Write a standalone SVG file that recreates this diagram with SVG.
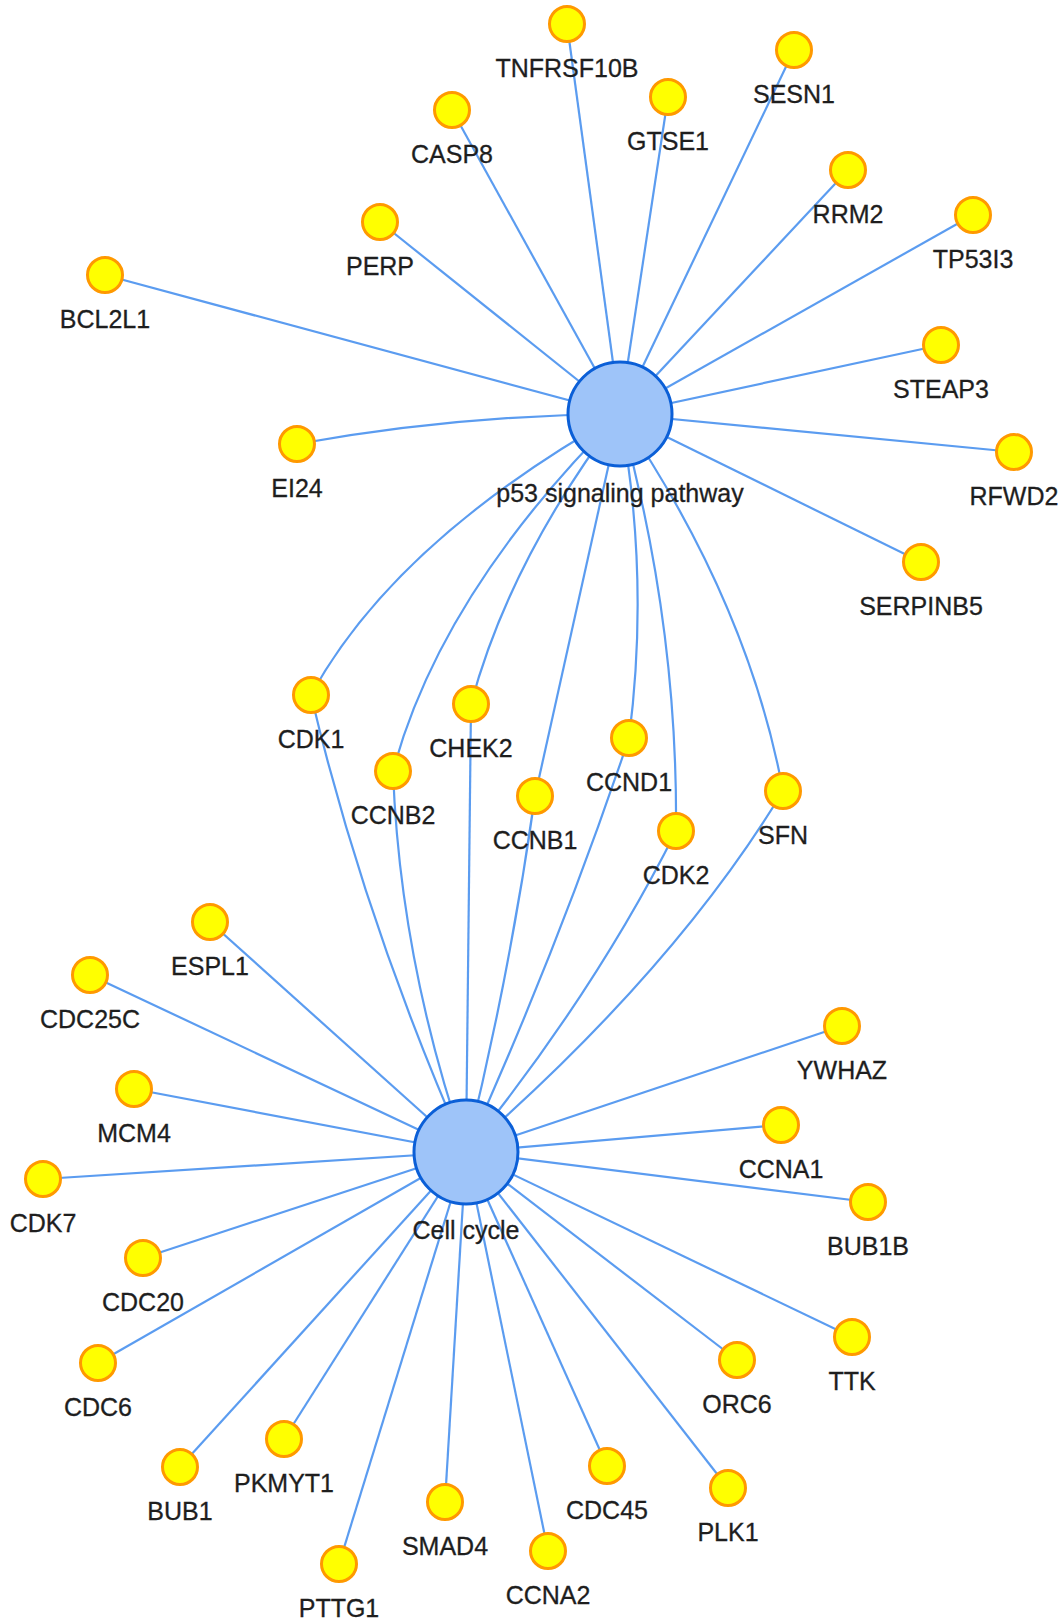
<svg xmlns="http://www.w3.org/2000/svg" width="1064" height="1623" viewBox="0 0 1064 1623">
<style>
.edge{fill:none;stroke:#5b9cf0;stroke-width:2.2}
.gene circle{fill:#ffff00;stroke:#ff9900;stroke-width:3}
.hub circle{fill:#9ec4f9;stroke:#0b5fd7;stroke-width:3}
text{font-family:"Liberation Sans",Arial,sans-serif;font-size:25px;fill:#1e1e1e;stroke:#1e1e1e;stroke-width:0.3;text-anchor:middle}
</style>
<rect width="1064" height="1623" fill="#ffffff"/>
<g id="edges">
<path class="edge" d="M620 414 L567 24"/>
<path class="edge" d="M620 414 L794 50"/>
<path class="edge" d="M620 414 L668 97"/>
<path class="edge" d="M620 414 L452 110"/>
<path class="edge" d="M620 414 L848 170"/>
<path class="edge" d="M620 414 L973 215"/>
<path class="edge" d="M620 414 L380 222"/>
<path class="edge" d="M620 414 L105 275"/>
<path class="edge" d="M620 414 L941 345"/>
<path class="edge" d="M620 414 L1014 452"/>
<path class="edge" d="M620 414 L921 562"/>
<path class="edge" d="M620 414 L535 796"/>
<path class="edge" d="M620 414 Q458 415 297 444"/>
<path class="edge" d="M620 414 Q395 541 311 695"/>
<path class="edge" d="M620 414 Q510 559 471 704"/>
<path class="edge" d="M620 414 Q441 592 393 771"/>
<path class="edge" d="M620 414 Q650 576 629 738"/>
<path class="edge" d="M620 414 Q678 622 676 831"/>
<path class="edge" d="M620 414 Q748 602 783 791"/>
<path class="edge" d="M466 1152 Q365 923 311 695"/>
<path class="edge" d="M466 1152 Q400 961 393 771"/>
<path class="edge" d="M466 1152 L471 704"/>
<path class="edge" d="M466 1152 Q510 974 535 796"/>
<path class="edge" d="M466 1152 Q558 949 629 738"/>
<path class="edge" d="M466 1152 Q596 991 676 831"/>
<path class="edge" d="M466 1152 Q674 971 783 791"/>
<path class="edge" d="M466 1152 L210 922"/>
<path class="edge" d="M466 1152 L90 975"/>
<path class="edge" d="M466 1152 L134 1089"/>
<path class="edge" d="M466 1152 L43 1179"/>
<path class="edge" d="M466 1152 L143 1258"/>
<path class="edge" d="M466 1152 L98 1363"/>
<path class="edge" d="M466 1152 L180 1467"/>
<path class="edge" d="M466 1152 L284 1439"/>
<path class="edge" d="M466 1152 L339 1564"/>
<path class="edge" d="M466 1152 L445 1502"/>
<path class="edge" d="M466 1152 L548 1551"/>
<path class="edge" d="M466 1152 L607 1466"/>
<path class="edge" d="M466 1152 L728 1488"/>
<path class="edge" d="M466 1152 L737 1360"/>
<path class="edge" d="M466 1152 L852 1337"/>
<path class="edge" d="M466 1152 L868 1202"/>
<path class="edge" d="M466 1152 L781 1125"/>
<path class="edge" d="M466 1152 L842 1026"/>
</g>
<g id="node-p53" class="hub"><circle cx="620" cy="414" r="52"/><text x="620" y="502">p53 signaling pathway</text></g>
<g id="node-cellcycle" class="hub"><circle cx="466" cy="1152" r="52"/><text x="466" y="1239">Cell cycle</text></g>
<g id="node-TNFRSF10B" class="gene"><circle cx="567" cy="24" r="17.5"/><text x="567" y="77">TNFRSF10B</text></g>
<g id="node-SESN1" class="gene"><circle cx="794" cy="50" r="17.5"/><text x="794" y="103">SESN1</text></g>
<g id="node-GTSE1" class="gene"><circle cx="668" cy="97" r="17.5"/><text x="668" y="150">GTSE1</text></g>
<g id="node-CASP8" class="gene"><circle cx="452" cy="110" r="17.5"/><text x="452" y="163">CASP8</text></g>
<g id="node-RRM2" class="gene"><circle cx="848" cy="170" r="17.5"/><text x="848" y="223">RRM2</text></g>
<g id="node-TP53I3" class="gene"><circle cx="973" cy="215" r="17.5"/><text x="973" y="268">TP53I3</text></g>
<g id="node-PERP" class="gene"><circle cx="380" cy="222" r="17.5"/><text x="380" y="275">PERP</text></g>
<g id="node-BCL2L1" class="gene"><circle cx="105" cy="275" r="17.5"/><text x="105" y="328">BCL2L1</text></g>
<g id="node-STEAP3" class="gene"><circle cx="941" cy="345" r="17.5"/><text x="941" y="398">STEAP3</text></g>
<g id="node-EI24" class="gene"><circle cx="297" cy="444" r="17.5"/><text x="297" y="497">EI24</text></g>
<g id="node-RFWD2" class="gene"><circle cx="1014" cy="452" r="17.5"/><text x="1014" y="505">RFWD2</text></g>
<g id="node-SERPINB5" class="gene"><circle cx="921" cy="562" r="17.5"/><text x="921" y="615">SERPINB5</text></g>
<g id="node-CDK1" class="gene"><circle cx="311" cy="695" r="17.5"/><text x="311" y="748">CDK1</text></g>
<g id="node-CHEK2" class="gene"><circle cx="471" cy="704" r="17.5"/><text x="471" y="757">CHEK2</text></g>
<g id="node-CCND1" class="gene"><circle cx="629" cy="738" r="17.5"/><text x="629" y="791">CCND1</text></g>
<g id="node-CCNB2" class="gene"><circle cx="393" cy="771" r="17.5"/><text x="393" y="824">CCNB2</text></g>
<g id="node-SFN" class="gene"><circle cx="783" cy="791" r="17.5"/><text x="783" y="844">SFN</text></g>
<g id="node-CCNB1" class="gene"><circle cx="535" cy="796" r="17.5"/><text x="535" y="849">CCNB1</text></g>
<g id="node-CDK2" class="gene"><circle cx="676" cy="831" r="17.5"/><text x="676" y="884">CDK2</text></g>
<g id="node-ESPL1" class="gene"><circle cx="210" cy="922" r="17.5"/><text x="210" y="975">ESPL1</text></g>
<g id="node-CDC25C" class="gene"><circle cx="90" cy="975" r="17.5"/><text x="90" y="1028">CDC25C</text></g>
<g id="node-YWHAZ" class="gene"><circle cx="842" cy="1026" r="17.5"/><text x="842" y="1079">YWHAZ</text></g>
<g id="node-MCM4" class="gene"><circle cx="134" cy="1089" r="17.5"/><text x="134" y="1142">MCM4</text></g>
<g id="node-CCNA1" class="gene"><circle cx="781" cy="1125" r="17.5"/><text x="781" y="1178">CCNA1</text></g>
<g id="node-CDK7" class="gene"><circle cx="43" cy="1179" r="17.5"/><text x="43" y="1232">CDK7</text></g>
<g id="node-BUB1B" class="gene"><circle cx="868" cy="1202" r="17.5"/><text x="868" y="1255">BUB1B</text></g>
<g id="node-CDC20" class="gene"><circle cx="143" cy="1258" r="17.5"/><text x="143" y="1311">CDC20</text></g>
<g id="node-TTK" class="gene"><circle cx="852" cy="1337" r="17.5"/><text x="852" y="1390">TTK</text></g>
<g id="node-ORC6" class="gene"><circle cx="737" cy="1360" r="17.5"/><text x="737" y="1413">ORC6</text></g>
<g id="node-CDC6" class="gene"><circle cx="98" cy="1363" r="17.5"/><text x="98" y="1416">CDC6</text></g>
<g id="node-PKMYT1" class="gene"><circle cx="284" cy="1439" r="17.5"/><text x="284" y="1492">PKMYT1</text></g>
<g id="node-BUB1" class="gene"><circle cx="180" cy="1467" r="17.5"/><text x="180" y="1520">BUB1</text></g>
<g id="node-CDC45" class="gene"><circle cx="607" cy="1466" r="17.5"/><text x="607" y="1519">CDC45</text></g>
<g id="node-PLK1" class="gene"><circle cx="728" cy="1488" r="17.5"/><text x="728" y="1541">PLK1</text></g>
<g id="node-SMAD4" class="gene"><circle cx="445" cy="1502" r="17.5"/><text x="445" y="1555">SMAD4</text></g>
<g id="node-CCNA2" class="gene"><circle cx="548" cy="1551" r="17.5"/><text x="548" y="1604">CCNA2</text></g>
<g id="node-PTTG1" class="gene"><circle cx="339" cy="1564" r="17.5"/><text x="339" y="1617">PTTG1</text></g>
</svg>
